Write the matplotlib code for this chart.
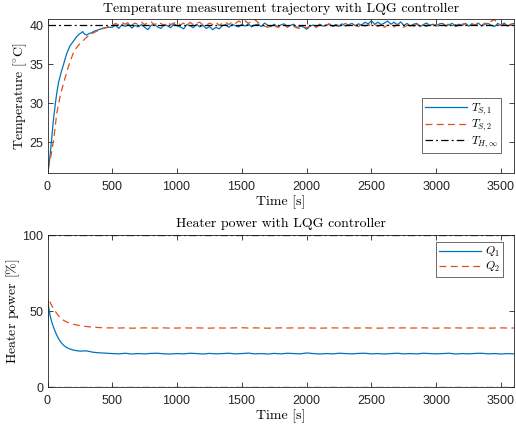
#!/usr/bin/env python3

import numpy as np
import matplotlib
matplotlib.use("Agg")
import matplotlib.pyplot as plt

# transient part of the temperature trajectories (time [s], value [degC])
t1_tr = [0, 5, 10, 20, 30, 45, 60, 71, 85, 96, 110, 122, 135, 148, 160, 173, 186, 199,
         212, 225, 238, 250, 262, 271, 280, 290, 302, 320, 340, 360, 379, 405, 430, 465]
T1_tr = [20.97, 21.2, 21.8, 23.2, 25.0, 27.7, 29.8, 31.2, 32.6, 33.3, 34.2, 34.8, 35.6,
         36.3, 36.8, 37.3, 37.6, 37.9, 38.2, 38.5, 38.7, 38.9, 39.0, 39.15, 38.95, 38.8,
         38.7, 38.9, 39.0, 39.2, 39.3, 39.45, 39.6, 39.7]
t2_tr = [0, 10, 20, 30, 45, 55, 71, 85, 96, 110, 122, 135, 148, 160, 173, 186, 199, 212,
         225, 250, 276, 300, 328, 355, 379, 410, 443, 470]
T2_tr = [21.5, 22.0, 22.6, 23.5, 25.0, 26.3, 28.6, 29.8, 30.7, 31.7, 32.4, 33.2, 33.9,
         34.6, 35.2, 35.8, 36.4, 36.8, 37.1, 37.6, 38.0, 38.4, 38.7, 39.0, 39.2, 39.45,
         39.6, 39.8]

# steady part, every 25 s from 500 s to 3600 s
T1_ss = [39.7, 40.0, 39.55, 40.05, 39.8, 40.15, 39.6, 39.95, 39.75, 40.05,
         39.7, 39.4, 39.95, 40.1, 39.75, 39.55, 40.05, 39.9, 39.65, 40.15,
         39.9, 39.75, 39.5, 40.05, 39.9, 39.65, 40.1, 39.75, 39.95, 39.55,
         39.8, 39.4, 39.7, 39.5, 39.95, 40.05, 39.7, 40.1, 39.9, 39.75,
         40.1, 39.85, 40.15, 39.75, 40.0, 40.1, 39.8, 40.25, 39.95, 39.8,
         40.1, 39.75, 40.0, 40.15, 39.8, 39.95, 40.1, 39.65, 39.85, 39.75,
         39.45, 39.85, 40.0, 39.75, 40.1, 39.85, 40.0, 40.15, 39.8, 40.05,
         39.9, 40.15, 39.85, 40.05, 40.2, 39.9, 40.15, 40.0, 40.35, 40.15,
         40.55, 40.1, 40.35, 40.05, 40.25, 40.5, 40.1, 40.35, 40.0, 40.4,
         39.95, 40.2, 39.85, 40.1, 40.2, 39.8, 40.05, 40.25, 39.95, 40.1,
         39.85, 40.15, 40.2, 39.85, 40.05, 40.2, 39.8, 40.1, 39.95, 40.2,
         39.85, 40.15, 40.0, 40.25, 39.85, 40.1, 40.2, 39.95, 39.8, 40.2,
         39.95, 40.25, 39.85, 40.1, 40.2]
T2_ss = [39.95, 40.2, 40.0, 40.3, 40.1, 40.35, 40.0, 40.25, 40.05, 40.35,
         40.05, 40.3, 40.4, 40.0, 40.35, 40.2, 39.95, 40.35, 40.05, 40.25,
         40.35, 40.0, 40.25, 39.95, 40.35, 40.05, 40.25, 40.35, 40.0, 39.95,
         40.25, 40.05, 40.35, 39.95, 40.25, 40.35, 40.05, 40.4, 40.2, 40.5,
         40.3, 40.55, 40.2, 40.5, 40.7, 40.3, 40.1, 39.85, 39.7, 39.85,
         39.95, 39.7, 39.85, 40.05, 39.7, 39.95, 39.8, 39.65, 39.55, 39.75,
         39.65, 39.85, 39.95, 39.7, 40.05, 39.8, 39.95, 40.1, 39.8, 39.95,
         39.8, 40.05, 40.2, 39.9, 40.1, 39.95, 39.8, 40.1, 39.85, 40.05,
         39.9, 40.1, 39.8, 40.05, 39.7, 40.0, 39.9, 39.75, 40.1, 39.9,
         39.7, 39.95, 40.05, 39.8, 40.1, 39.9, 40.0, 39.8, 40.1, 39.9,
         40.05, 39.8, 40.1, 39.9, 40.2, 39.9, 40.05, 39.8, 40.1, 40.2,
         39.9, 40.1, 40.0, 40.2, 39.9, 40.25, 40.05, 40.5, 40.7, 40.15,
         39.9, 40.1, 39.8, 40.05, 39.9]

# heater power (time [s], value [%])
tq1_tr = [0, 3, 8, 19, 30, 45, 58, 71, 84, 96, 110, 122, 147, 173, 200, 225, 250, 276,
          300, 325, 350, 379, 420, 460]
Q1_tr = [22.0, 56.0, 53.0, 47.4, 43.5, 39.7, 36.8, 34.2, 32.0, 30.3, 28.8, 27.6, 26.0,
         25.0, 24.3, 23.9, 23.6, 23.7, 23.8, 23.3, 22.9, 22.6, 22.4, 22.2]
tq2_tr = [0, 3, 10, 19, 30, 45, 58, 71, 84, 96, 110, 122, 147, 173, 200, 225, 250, 300,
          350, 400, 450]
Q2_tr = [38.6, 58.3, 57.5, 56.0, 54.0, 51.8, 50.0, 48.5, 47.0, 45.8, 44.8, 44.0, 42.8,
         41.9, 41.2, 40.8, 40.4, 39.8, 39.4, 39.1, 38.9]

# steady part, every 50 s from 500 s to 3600 s
Q1_ss = [22.0, 21.8, 22.2, 21.7, 22.0, 21.8, 22.1, 22.2, 21.8, 21.7,
         22.0, 21.8, 22.2, 22.0, 21.7, 22.1, 21.8, 22.0, 22.2, 21.8,
         22.0, 22.3, 21.8, 22.0, 21.7, 22.1, 21.8, 22.2, 22.0, 21.8,
         22.4, 22.0, 21.7, 22.0, 21.8, 22.2, 22.0, 21.8, 22.1, 22.2,
         21.8, 22.0, 21.7, 22.0, 22.2, 21.8, 22.0, 21.8, 22.2, 22.0,
         21.8, 22.0, 22.2, 21.7, 22.0, 21.8, 22.1, 22.2, 21.8, 22.0,
         21.7, 22.0, 21.8]
Q2_ss = [38.9, 38.8, 38.9, 38.7, 38.8, 38.9, 38.8, 38.8, 38.9, 38.7,
         38.8, 38.9, 38.8, 38.9, 38.8, 38.7, 38.9, 38.8, 38.8, 38.9,
         39.0, 38.8, 38.9, 38.8, 38.7, 38.8, 38.9, 38.8, 38.9, 38.8,
         38.9, 38.8, 38.7, 38.8, 38.9, 38.8, 38.9, 38.8, 38.8, 38.9,
         38.8, 38.7, 38.8, 38.9, 38.8, 38.9, 38.8, 38.8, 38.9, 38.8,
         38.7, 38.9, 38.8, 38.9, 38.8, 38.8, 38.9, 38.8, 38.7, 38.8,
         38.9, 38.8, 38.8]

T_ref = 40.0
Q_min, Q_max = 0.0, 100.0
t_end = 3600

BLUE = "#0072BD"
ORANGE = "#D95319"
GRAY = "#262626"
DASH = (5.5, 3.5)
DASHDOT = (6, 2.5, 1.5, 2.5)


def join(t_tr, v_tr, v_ss):
    t = np.concatenate([t_tr, np.linspace(500, t_end, len(v_ss))])
    return t, np.concatenate([v_tr, v_ss])


def style_axes(ax):
    ax.tick_params(direction="in", top=True, right=True, length=3.5, width=0.6,
                   labelsize=9, colors=GRAY)
    ax.tick_params(axis="x", pad=5)
    ax.tick_params(axis="y", pad=2.5)
    for s in ax.spines.values():
        s.set_linewidth(0.6)
        s.set_color(GRAY)
    for lab in ax.get_xticklabels() + ax.get_yticklabels():
        lab.set_fontfamily("Liberation Sans")


def add_legend(ax, loc, anchor):
    leg = ax.legend(loc=loc, bbox_to_anchor=anchor, fontsize=8.5, frameon=True,
                    fancybox=False, borderaxespad=0, handlelength=3.6,
                    handletextpad=0.3, labelspacing=0.1, borderpad=0.25)
    leg.get_frame().set_edgecolor(GRAY)
    leg.get_frame().set_linewidth(0.6)


def main():
    plt.rcParams["mathtext.fontset"] = "cm"
    plt.rcParams["font.family"] = ["cmr10", "DejaVu Serif"]
    plt.rcParams["axes.formatter.use_mathtext"] = True

    fig = plt.figure(figsize=(5.16, 4.30), dpi=100)
    ax1 = fig.add_axes([47.5 / 516, 1 - 173 / 430, (514 - 47.5) / 516, 154 / 430])
    ax2 = fig.add_axes([47.5 / 516, 1 - 387 / 430, (514 - 47.5) / 516, 152 / 430])

    lw = 0.9
    t1, T1 = join(t1_tr, T1_tr, T1_ss)
    t2, T2 = join(t2_tr, T2_tr, T2_ss)
    ax1.plot(t1, T1, color=BLUE, lw=lw, label=r"$T_{S,1}$")
    ax1.plot(t2, T2, color=ORANGE, lw=lw, dashes=DASH, label=r"$T_{S,2}$")
    ax1.plot([0, t_end], [T_ref, T_ref], color="black", lw=lw, dashes=DASHDOT,
             label=r"$T_{H,\infty}$")
    ax1.set_xlim(0, t_end)
    ax1.set_ylim(20.97, 40.77)
    ax1.set_xticks(np.arange(0, 3501, 500))
    ax1.set_yticks([25, 30, 35, 40])
    ax1.set_title("Temperature measurement trajectory with LQG controller",
                  fontsize=10, pad=5)
    ax1.set_xlabel("Time [s]", fontsize=10, labelpad=2)
    ax1.set_ylabel(r"Temperature [$^{\circ}$C]", fontsize=10, labelpad=0)
    add_legend(ax1, "lower right", (0.972, 0.13))
    style_axes(ax1)

    tq1, Q1 = join(tq1_tr, Q1_tr, Q1_ss)
    tq2, Q2 = join(tq2_tr, Q2_tr, Q2_ss)
    ax2.plot(tq1, Q1, color=BLUE, lw=lw, label=r"$Q_1$")
    ax2.plot(tq2, Q2, color=ORANGE, lw=lw, dashes=DASH, label=r"$Q_2$")
    ax2.plot([0, t_end], [Q_min, Q_min], color="black", lw=lw, dashes=DASHDOT)
    ax2.plot([0, t_end], [Q_max, Q_max], color="black", lw=lw, dashes=DASHDOT)
    ax2.set_xlim(0, t_end)
    ax2.set_ylim(0, 100)
    ax2.set_xticks(np.arange(0, 3501, 500))
    ax2.set_yticks([0, 50, 100])
    ax2.set_title("Heater power with LQG controller", fontsize=10, pad=5.5)
    ax2.set_xlabel("Time [s]", fontsize=10, labelpad=2)
    ax2.set_ylabel(r"Heater power [$\%$]", fontsize=10, labelpad=0)
    add_legend(ax2, "upper right", (0.976, 0.954))
    style_axes(ax2)

    plt.savefig("out.png", dpi=100)


if __name__ == '__main__':
    main()
